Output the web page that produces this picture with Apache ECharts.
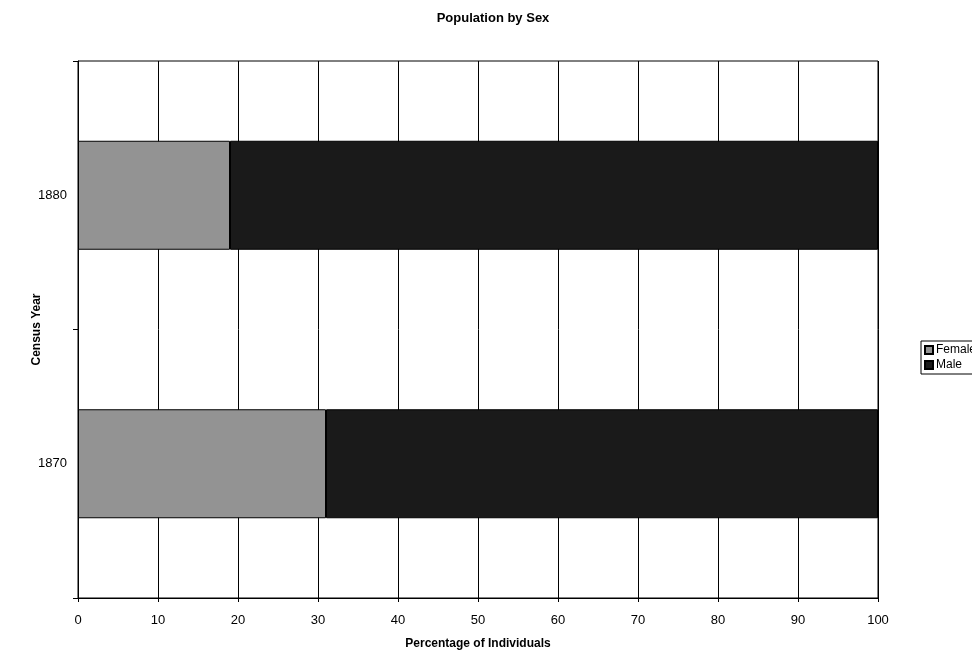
<!DOCTYPE html>
<html>
<head>
<meta charset="utf-8">
<script src="https://cdn.jsdelivr.net/npm/echarts@6/dist/echarts.min.js"></script>
<style>
html,body{margin:0;padding:0;background:#fff;}
#chart{width:972px;height:651px;}
</style>
</head>
<body>
<div id="chart"></div>
<script>
var years = ['1870', '1880'];
var female = [31, 19];
var male = [69, 81];
var xTicks = [0, 10, 20, 30, 40, 50, 60, 70, 80, 90, 100];

var chart = echarts.init(document.getElementById('chart'), null, {renderer: 'canvas'});
var font = 'Liberation Sans, Arial, sans-serif';
chart.setOption({
  backgroundColor: '#fff',
  animation: false,
  title: {
    text: 'Population by Sex',
    left: 488, top: 7, textAlign: 'center',
    textStyle: {fontFamily: font, fontSize: 13, fontWeight: 'bold', color: '#000'}
  },
  legend: {
    orient: 'vertical',
    left: 921, top: 341,
    data: ['Female', 'Male'],
    icon: 'rect',
    borderColor: '#000', borderWidth: 1,
    padding: [3, 8, 3, 3],
    itemWidth: 8, itemHeight: 8, itemGap: 3,
    textStyle: {fontFamily: font, fontSize: 12, color: '#000', padding: [0, 0, 0, -2]}
  },
  grid: {
    left: 78, right: 94, top: 61, bottom: 53,
    outerBoundsMode: 'none',
    containLabel: false,
    show: true, borderColor: '#000', borderWidth: 1
  },
  xAxis: {
    type: 'value', min: 0, max: 100, interval: 10,
    name: 'Percentage of Individuals', nameLocation: 'middle', nameGap: 40,
    nameTextStyle: {fontFamily: font, fontSize: 12, fontWeight: 'bold', color: '#000'},
    axisLine: {show: true, lineStyle: {color: '#000'}},
    axisTick: {show: true, length: 4, lineStyle: {color: '#000'}},
    axisLabel: {fontFamily: font, fontSize: 13, color: '#000', margin: 16,
      formatter: function (v) { return xTicks.indexOf(v) >= 0 ? String(v) : ''; }},
    splitLine: {show: true, lineStyle: {color: '#000', width: 1}}
  },
  yAxis: {
    type: 'category', data: years,
    name: 'Census Year', nameLocation: 'middle', nameGap: 35, nameRotate: 90,
    nameMoveOverlap: false,
    nameTextStyle: {fontFamily: font, fontSize: 12, fontWeight: 'bold', color: '#000'},
    axisLine: {show: true, lineStyle: {color: '#000'}},
    axisTick: {show: true, length: 5, alignWithLabel: false, lineStyle: {color: '#000'}},
    axisLabel: {fontFamily: font, fontSize: 13, color: '#000', margin: 11},
    splitLine: {show: false}
  },
  series: [
    {
      name: 'Female', type: 'bar', stack: 'total', data: female,
      barWidth: 109,
      itemStyle: {color: '#939393', borderColor: '#000', borderWidth: 1}
    },
    {
      name: 'Male', type: 'bar', stack: 'total', data: male,
      barWidth: 109,
      itemStyle: {color: '#1a1a1a', borderColor: '#000', borderWidth: 1}
    }
  ]
});
</script>
</body>
</html>
